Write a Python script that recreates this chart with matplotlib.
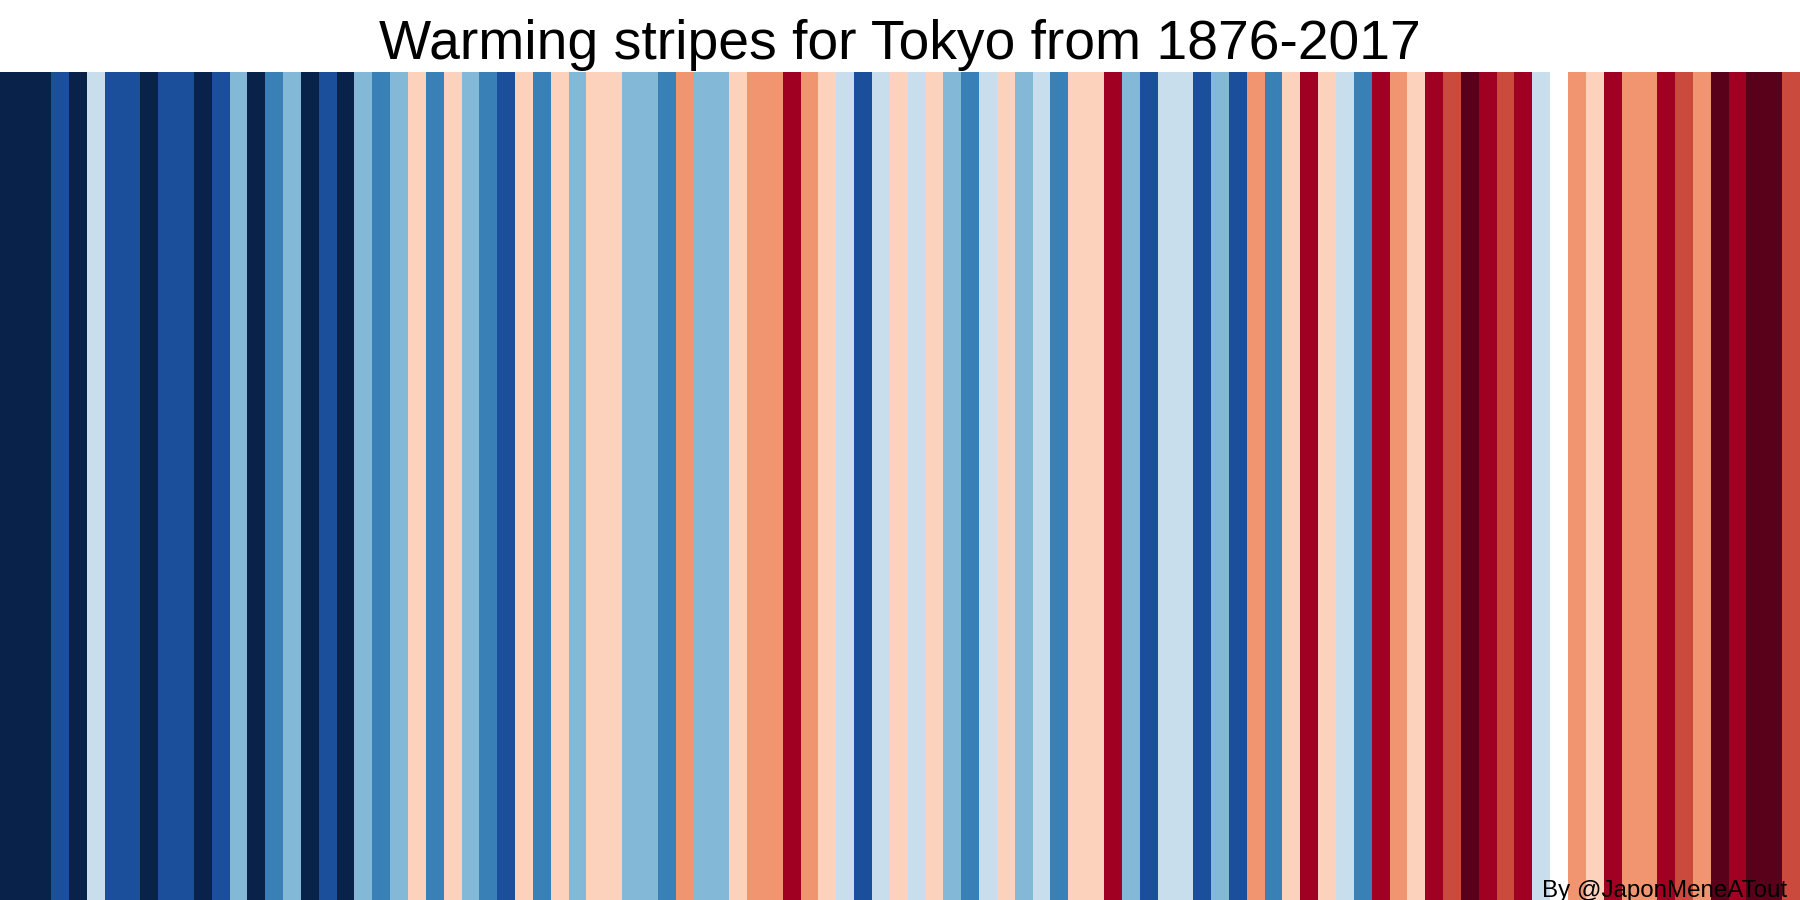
import matplotlib
matplotlib.use("Agg")
import matplotlib.pyplot as plt
from matplotlib.colors import ListedColormap, BoundaryNorm
import numpy as np

plt.rcParams['font.family'] = ['Liberation Sans', 'DejaVu Sans']

title = "Warming stripes for Tokyo from 1876-2017"
credit = "By @JaponMeneATout"

# colour class of each stripe (0 = coldest ... 10 = warmest)
anomaly_class = [
    0, 0, 0, 1, 0, 4, 1, 1, 0, 1,
    1, 0, 1, 3, 0, 2, 3, 0, 1, 0,
    3, 2, 3, 6, 2, 6, 3, 2, 1, 6,
    2, 6, 3, 6, 6, 3, 3, 2, 7, 3,
    3, 6, 7, 7, 9, 7, 6, 4, 1, 4,
    6, 4, 6, 3, 2, 4, 6, 3, 4, 2,
    6, 6, 9, 3, 1, 4, 4, 1, 3, 1,
    7, 2, 6, 9, 6, 4, 2, 9, 7, 6,
    9, 8, 10, 9, 8, 9, 4, 5, 7, 6,
    9, 7, 7, 9, 8, 7, 10, 9, 10, 10,
    8,
]

palette = ["#08224A", "#1B4F9B", "#3880B6", "#84B8D7", "#C8DEEC", "#FFFFFF",
           "#FCD2BC", "#F0956F", "#CB4A3E", "#A00021", "#59001A"]

cmap = ListedColormap(palette)
norm = BoundaryNorm(np.arange(-0.5, len(palette) + 0.5, 1), cmap.N)

fig = plt.figure(figsize=(18, 9), dpi=100)
ax = fig.add_axes([0, 0, 1, 1 - 72 / 900])
x = np.arange(len(anomaly_class))
ax.bar(x, np.ones(len(x)), width=1.0, color=cmap(norm(anomaly_class)),
       linewidth=0, align='center')
ax.set_xlim(-0.36, len(x) - 0.5)
ax.set_ylim(0, 1)
ax.axis('off')

fig.text(0.5, 1 - 59 / 900, title, ha='center', va='baseline', fontsize=39.8)
fig.text(1 - 13 / 1800, 3 / 900, credit, ha='right', va='baseline', fontsize=17.4)

fig.savefig("out.png", dpi=100)
